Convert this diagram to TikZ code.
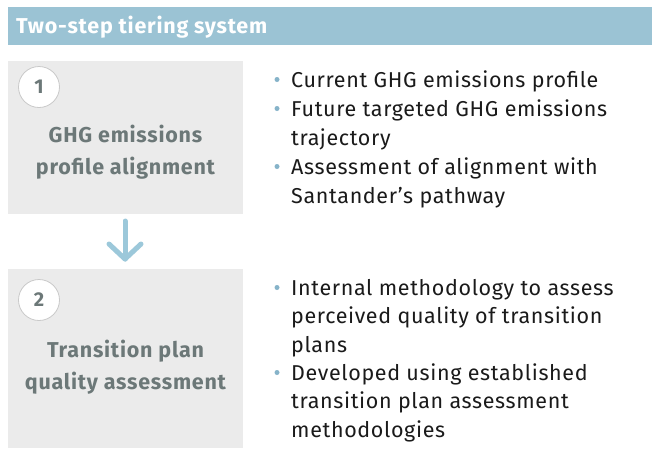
\documentclass[tikz,border=0pt]{standalone}
\usepackage{fontspec}
\setmainfont{Fira Sans}
\newfontfamily\bodyface[LetterSpace=3]{Fira Sans}
\newfontfamily\headface[LetterSpace=3.5]{Fira Sans}
\definecolor{headblue}{HTML}{9BC3D4}
\definecolor{panelgray}{HTML}{EBEBEB}
\definecolor{ringgray}{HTML}{C9C9C9}
\definecolor{titlegray}{HTML}{6C7878}
\definecolor{dotblue}{HTML}{86B3C9}
\definecolor{arrowblue}{HTML}{9CC8DA}
\definecolor{bodyblack}{HTML}{1A1A1A}
\begin{document}
\begin{tikzpicture}[x=1pt,y=-1pt,
  panel/.style={fill=panelgray,draw=none},
  stepnum/.style={circle,draw=ringgray,line width=0.8pt,fill=white,minimum size=41pt,inner sep=0pt,
    text=titlegray,font=\fontsize{20}{24}\selectfont\bfseries},
  steptitle/.style={anchor=base,inner sep=0pt,text=titlegray,font=\headface\fontsize{21.5}{24}\selectfont\bfseries},
  line/.style={anchor=base west,inner sep=0pt,text=bodyblack,font=\bodyface\fontsize{21.5}{24}\selectfont},
  dot/.style={circle,fill=dotblue,inner sep=0pt,minimum size=5pt},
  flow/.style={draw=arrowblue,line width=5pt,line cap=round,line join=round}]
\useasboundingbox (0,0) rectangle (652,448);
\fill[white] (0,0) rectangle (652,448);

% header bar
\fill[headblue] (8,7) rectangle (652,45);
\node[anchor=base west,inner sep=0pt,text=white,font=\headface\fontsize{21.5}{24}\selectfont\bfseries] (head) at (16,33) {Two-step tiering system};

% step panels
\path[panel] (8,61) rectangle (243,214);
\path[panel] (8,269) rectangle (243,448);

\node[stepnum] (n1) at (39,87) {1};
\node[steptitle] (t1a) at (125.5,142) {GHG emissions};
\node[steptitle] (t1b) at (125.5,174) {profile alignment};

\node[stepnum] (n2) at (39,300) {2};
\node[steptitle] (t2a) at (125.5,357) {Transition plan};
\node[steptitle] (t2b) at (125.5,389) {quality assessment};

% arrow between the steps
\coordinate (a0) at (125,221);
\coordinate (a1) at (125,259);
\coordinate (al) at (109,244);
\coordinate (ar) at (141,244);
\draw[flow] (a0) -- (a1);
\draw[flow] (al) -- (a1) -- (ar);

% bullet lists
\node[line] (b1) at (291,87) {Current GHG emissions profile};
\node[line] (b2) at (291,116) {Future targeted GHG emissions};
\node[line] (b2b) at (291,145) {trajectory};
\node[line] (b3) at (291,174) {Assessment of alignment with};
\node[line] (b3b) at (291,203) {Santander’s pathway};

\node[line] (c1) at (291,295) {Internal methodology to assess};
\node[line] (c1b) at (291,323) {perceived quality of transition};
\node[line] (c1c) at (291,352) {plans};
\node[line] (c2) at (291,380) {Developed using established};
\node[line] (c2b) at (291,408) {transition plan assessment};
\node[line] (c2c) at (291,437) {methodologies};

\foreach \n/\y in {d1/87,d2/116,d3/174,d4/295,d5/380}
  \node[dot] (\n) at (277,\y-7.5) {};
\end{tikzpicture}
\end{document}
